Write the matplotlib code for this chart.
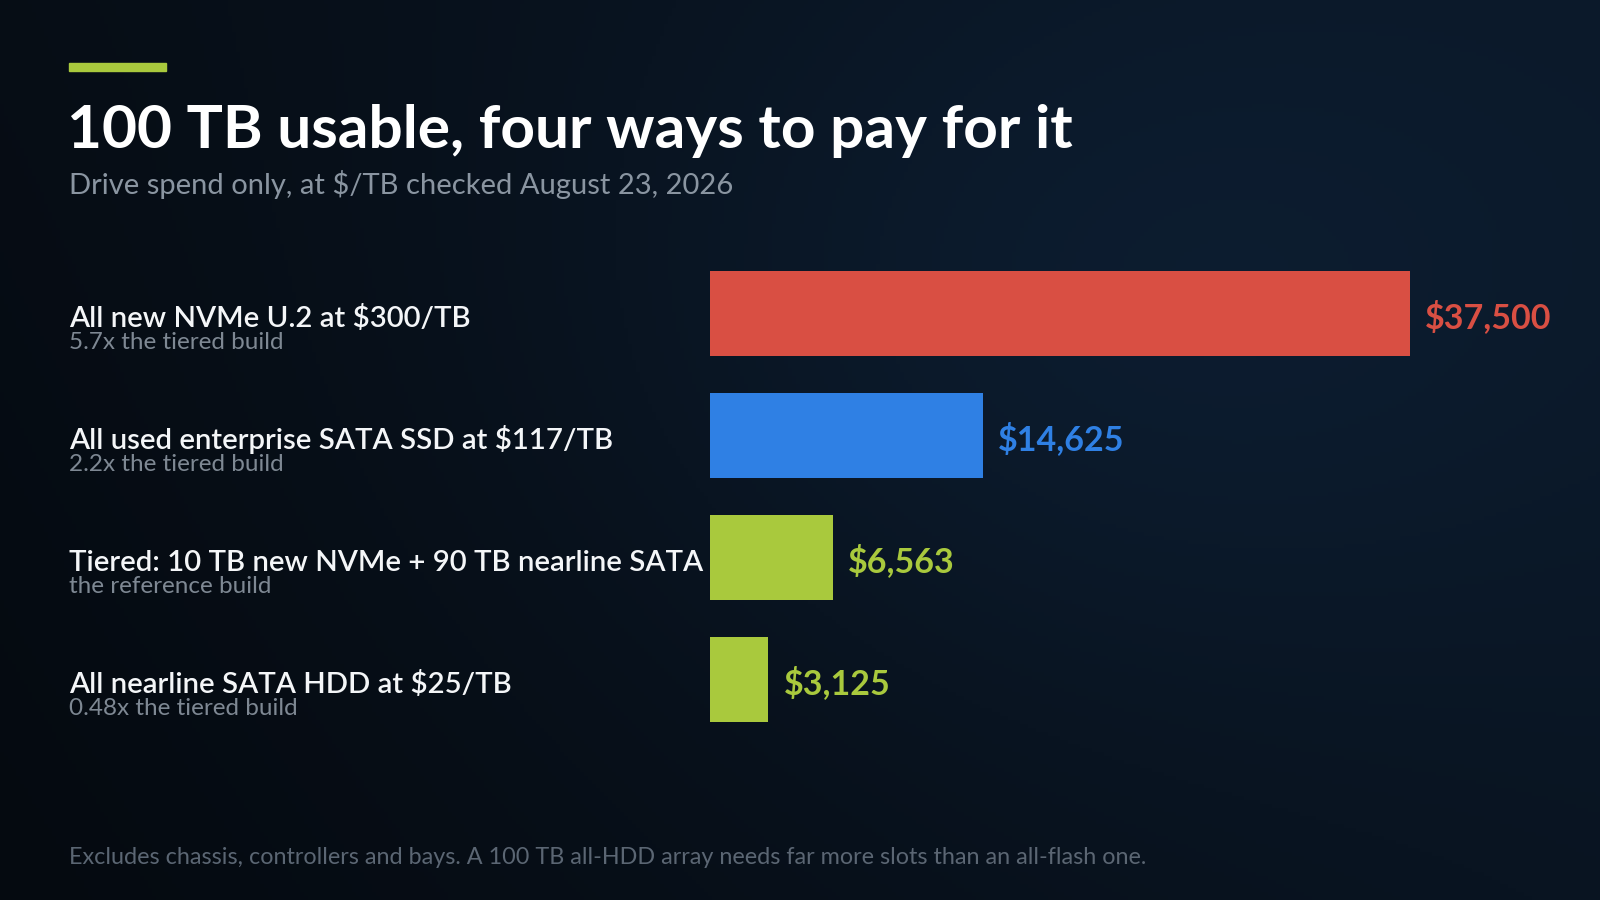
import numpy as np
import matplotlib
matplotlib.use("Agg")
import matplotlib.pyplot as plt
from matplotlib.transforms import blended_transform_factory

# Dados
labels = [
    "All new NVMe U.2 at $300/TB",
    "All used enterprise SATA SSD at $117/TB",
    "Tiered: 10 TB new NVMe + 90 TB nearline SATA",
    "All nearline SATA HDD at $25/TB",
]
notes = [
    "5.7x the tiered build",
    "2.2x the tiered build",
    "the reference build",
    "0.48x the tiered build",
]
costs = [37500, 14625, 6563, 3125]
value_labels = ["$37,500", "$14,625", "$6,563", "$3,125"]
bar_colors = ["#d94f43", "#2f80e4", "#a9c93d", "#a9c93d"]

title = "100 TB usable, four ways to pay for it"
subtitle = "Drive spend only, at $/TB checked August 23, 2026"
footnote = "Excludes chassis, controllers and bays. A 100 TB all-HDD array needs far more slots than an all-flash one."

plt.rcParams['font.family'] = ['Lato', 'DejaVu Sans']

W, H = 1600, 900
fig = plt.figure(figsize=(16, 9), dpi=100)

# Fundo com gradiente
bg = fig.add_axes([0, 0, 1, 1])
gx, gy = np.meshgrid(np.linspace(0, 1, 400), np.linspace(0, 1, 225))
c0 = np.array([5, 10, 16]) / 255
c1 = np.array([13, 30, 50]) / 255
t = np.clip(0.75 * gx + 0.25 * (1 - gy), 0, 1)
glow = np.exp(-(((gx - 0.7) / 0.35) ** 2 + ((gy - 0.35) / 0.45) ** 2))
t = np.clip(0.65 * t + 0.45 * glow, 0, 1)
img = c0 + (c1 - c0) * t[..., None]
bg.imshow(img, extent=[0, 1, 0, 1], aspect='auto', origin='upper')
bg.set_axis_off()

# Barras
ax = fig.add_axes([710 / W, (H - 740.5) / H, 700 / W, 488 / H])
ax.set_facecolor('none')
y = np.arange(len(costs))
ax.barh(y, costs, height=0.70, color=bar_colors)
ax.set_xlim(0, 37500)
ax.set_ylim(len(costs) - 0.5, -0.5)
ax.set_axis_off()

for i, (v, lab, col) in enumerate(zip(costs, value_labels, bar_colors)):
    ax.annotate(lab, xy=(v, i), xytext=(11, -2.5), textcoords='offset points',
                va='center', ha='left', color=col, fontsize=24.5,
                fontweight='bold', annotation_clip=False)

# Rótulos das linhas
tr = blended_transform_factory(fig.transFigure, ax.transData)
for i, (lab, note) in enumerate(zip(labels, notes)):
    ax.annotate(lab, xy=(69 / W, i), xycoords=tr, xytext=(0, -9.5),
                textcoords='offset points', va='baseline', ha='left',
                color='#f4f6f8', fontsize=21.2, fontweight='semibold',
                annotation_clip=False)
    ax.annotate(note, xy=(69 / W, i), xycoords=tr, xytext=(0, -25.5),
                textcoords='offset points', va='baseline', ha='left',
                color='#7e8893', fontsize=17.5, fontweight='normal',
                annotation_clip=False)

# Títulos
fig.patches.append(plt.Rectangle((69 / W, 1 - 71 / H), 97 / W, 8 / H,
                                 transform=fig.transFigure, color='#a9c93d'))
fig.text(67 / W, 1 - 148 / H, title, color='white', fontsize=43.5,
         fontweight='bold', va='baseline', ha='left')
fig.text(69 / W, 1 - 194 / H, subtitle, color='#8a95a1', fontsize=21,
         fontweight='normal', va='baseline', ha='left')
fig.text(69 / W, 1 - 864 / H, footnote, color='#5b6673', fontsize=16.8,
         fontweight='normal', va='baseline', ha='left')

fig.savefig('out.png', dpi=100)
